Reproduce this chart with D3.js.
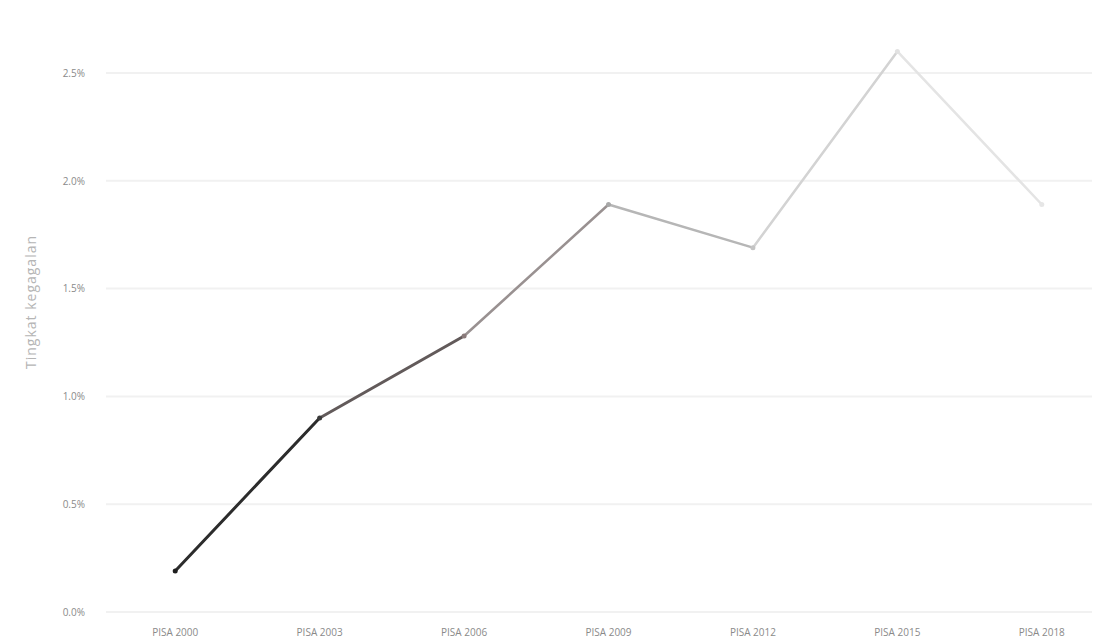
<!DOCTYPE html>
<html>
<head>
<meta charset="utf-8">
<script src="https://cdn.jsdelivr.net/npm/d3@7"></script>
<style>
  body { margin: 0; background: #fff; font-family: "Open Sans", sans-serif; }
</style>
</head>
<body>
<div id="plot"></div>
<script>
// data
const rounds = ["PISA 2000", "PISA 2003", "PISA 2006", "PISA 2009", "PISA 2012", "PISA 2015", "PISA 2018"];
const values = [0.19, 0.90, 1.28, 1.89, 1.69, 2.60, 1.89];
const yTicks = [0, 0.5, 1.0, 1.5, 2.0, 2.5];
const yTitle = "Tingkat kegagalan";

const width = 1110, height = 644;
const margin = { top: 20, right: 0, bottom: 32, left: 103 };

const svg = d3.select("#plot")
  .append("svg")
  .attr("width", width)
  .attr("height", height);

const x = d3.scaleBand()
  .domain(rounds)
  .range([margin.left, 1114]);

const y = d3.scaleLinear()
  .domain([0, 2.5])
  .range([612, 73]);

// grid lines
svg.append("g")
  .selectAll("line")
  .data(yTicks)
  .join("line")
  .attr("x1", 106)
  .attr("x2", 1092)
  .attr("y1", d => y(d))
  .attr("y2", d => y(d))
  .attr("stroke", "#f1f1f1")
  .attr("stroke-width", 2);

// y axis labels
const yAxis = svg.append("g")
  .attr("transform", "translate(88,0)")
  .call(d3.axisLeft(y).tickValues(yTicks).tickSize(0).tickFormat(d => d.toFixed(1) + "%"));
yAxis.select(".domain").remove();
yAxis.selectAll("text")
  .attr("fill", "#8a8a8a")
  .style("font-size", "10px")
  .style("font-family", "Open Sans");

// x axis labels
const xAxis = svg.append("g")
  .attr("transform", "translate(0,626)")
  .call(d3.axisBottom(x).tickSize(0));
xAxis.select(".domain").remove();
xAxis.selectAll("text")
  .attr("fill", "#8a8a8a")
  .style("font-size", "10px")
  .style("font-family", "Open Sans");

// y title
svg.append("text")
  .attr("transform", "translate(36,302) rotate(-90)")
  .attr("text-anchor", "middle")
  .attr("fill", "#b5b5b5")
  .style("font-size", "14px")
  .style("letter-spacing", "1px")
  .text(yTitle);

// line, fading from dark to light
const pts = rounds.map((r, i) => ({ r, v: values[i] }));
const color = d3.scaleLinear()
  .domain([0, 1, 2, 3, 4, 5, 6])
  .range(["#1e1e1e", "#3a3a3a", "#8a7a7a", "#a8a8a8", "#c4c4c4", "#e2e2e2", "#e6e6e6"]);

const cx = d => x(d.r) + x.bandwidth() / 2;

svg.append("g")
  .selectAll("line")
  .data(pts.slice(1))
  .join("line")
  .attr("x1", (d, i) => cx(pts[i]))
  .attr("y1", (d, i) => y(pts[i].v))
  .attr("x2", d => cx(d))
  .attr("y2", d => y(d.v))
  .attr("stroke", (d, i) => color(i + 0.5))
  .attr("stroke-width", (d, i) => i < 2 ? 3 : 2.5)
  .attr("stroke-linecap", "round");

svg.append("g")
  .selectAll("circle")
  .data(pts)
  .join("circle")
  .attr("cx", cx)
  .attr("cy", d => y(d.v))
  .attr("r", 2.5)
  .attr("fill", (d, i) => color(i));
</script>
</body>
</html>
